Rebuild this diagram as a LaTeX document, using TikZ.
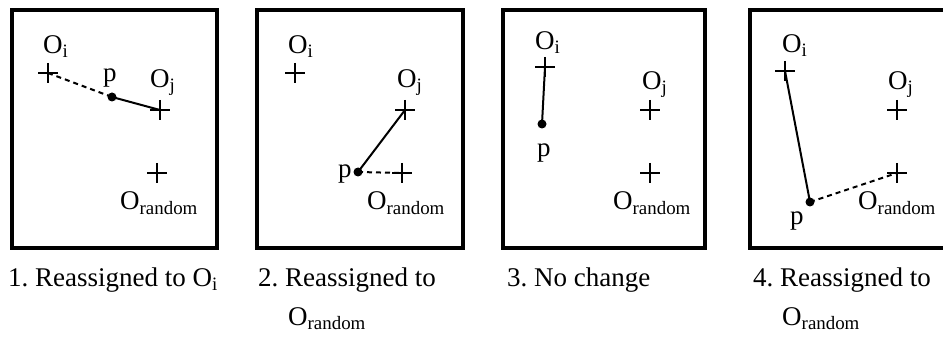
\documentclass[tikz,border=0pt]{standalone}
\usepackage{fontspec}
\setmainfont{Liberation Serif}
\frenchspacing

\newcommand{\Orand}{O\textsubscript{random}}

\begin{document}
\begin{tikzpicture}[
        x=1pt, y=-1pt,
        every node/.style={font=\fontsize{27}{32}\selectfont, inner sep=0pt},
        frame/.style={line width=3.5pt},
        centroid/.style={minimum size=20pt,
            path picture={\draw[line width=1.3pt]
                (path picture bounding box.north) -- (path picture bounding box.south)
                (path picture bounding box.west) -- (path picture bounding box.east);}},
        obj/.style={circle, fill, minimum size=9pt},
        near/.style={line width=2pt},
        far/.style={line width=2pt, dash pattern=on 5pt off 4pt},
        lbl/.style={anchor=base west}
    ]

    \clip (0,0) rectangle (943,339);

    % =====================================================
    % 1. Reassigned to O_i
    % =====================================================
    \draw[frame] (12,10) rectangle (217,248);

    \node[centroid] (oi1) at (48,73) {};
    \node[centroid] (oj1) at (160,110) {};
    \node[centroid] (or1) at (157,173) {};
    \node[obj] (p1) at (112,97) {};

    \node[lbl] at (43,54) {O\textsubscript{i}};
    \node[lbl] at (150,88) {O\textsubscript{j}};
    \node[lbl] at (120,210) {\Orand};
    \node[lbl] at (103,82) {p};

    \draw[far] (oi1.center) -- (p1.center);
    \draw[near] (p1.center) -- (oj1.center);

    \node[lbl] (cap1) at (8,287) {1. Reassigned to O\textsubscript{i}};

    % =====================================================
    % 2. Reassigned to O_random
    % =====================================================
    \draw[frame] (257,10) rectangle (463,248);

    \node[centroid] (oi2) at (295,73) {};
    \node[centroid] (oj2) at (405,110) {};
    \node[centroid] (or2) at (402,173) {};
    \node[obj] (p2) at (358,172) {};

    \node[lbl] at (288,54) {O\textsubscript{i}};
    \node[lbl] at (397,88) {O\textsubscript{j}};
    \node[lbl] at (367,210) {\Orand};
    \node[lbl] at (338,178) {p};

    \draw[near] (oj2.center) -- (p2.center);
    \draw[far] (p2.center) -- (or2.center);

    \node[lbl] (cap2) at (258,287) {2. Reassigned to};
    \node[lbl] (cap2b) at (288,325) {\Orand};

    % =====================================================
    % 3. No change
    % =====================================================
    \draw[frame] (503,10) rectangle (705,248);

    \node[centroid] (oi3) at (545,67) {};
    \node[centroid] (oj3) at (650,110) {};
    \node[centroid] (or3) at (650,173) {};
    \node[obj] (p3) at (542,124) {};

    \node[lbl] at (535,50) {O\textsubscript{i}};
    \node[lbl] at (642,90) {O\textsubscript{j}};
    \node[lbl] at (613,210) {\Orand};
    \node[lbl] at (537,157) {p};

    \draw[near] (oi3.center) -- (p3.center);

    \node[lbl] (cap3) at (507,287) {3. No change};

    % =====================================================
    % 4. Reassigned to O_random
    % =====================================================
    \draw[frame] (750,10) rectangle (955,248);

    \node[centroid] (oi4) at (785,71) {};
    \node[centroid] (oj4) at (897,110) {};
    \node[centroid] (or4) at (897,173) {};
    \node[obj] (p4) at (810,202) {};

    \node[lbl] at (782,53) {O\textsubscript{i}};
    \node[lbl] at (888,90) {O\textsubscript{j}};
    \node[lbl] at (858,210) {\Orand};
    \node[lbl] at (790,225) {p};

    \draw[near] (oi4.center) -- (p4.center);
    \draw[far] (p4.center) -- (or4.center);

    \node[lbl] (cap4) at (753,287) {4. Reassigned to};
    \node[lbl] (cap4b) at (782,325) {\Orand};

\end{tikzpicture}
\end{document}
